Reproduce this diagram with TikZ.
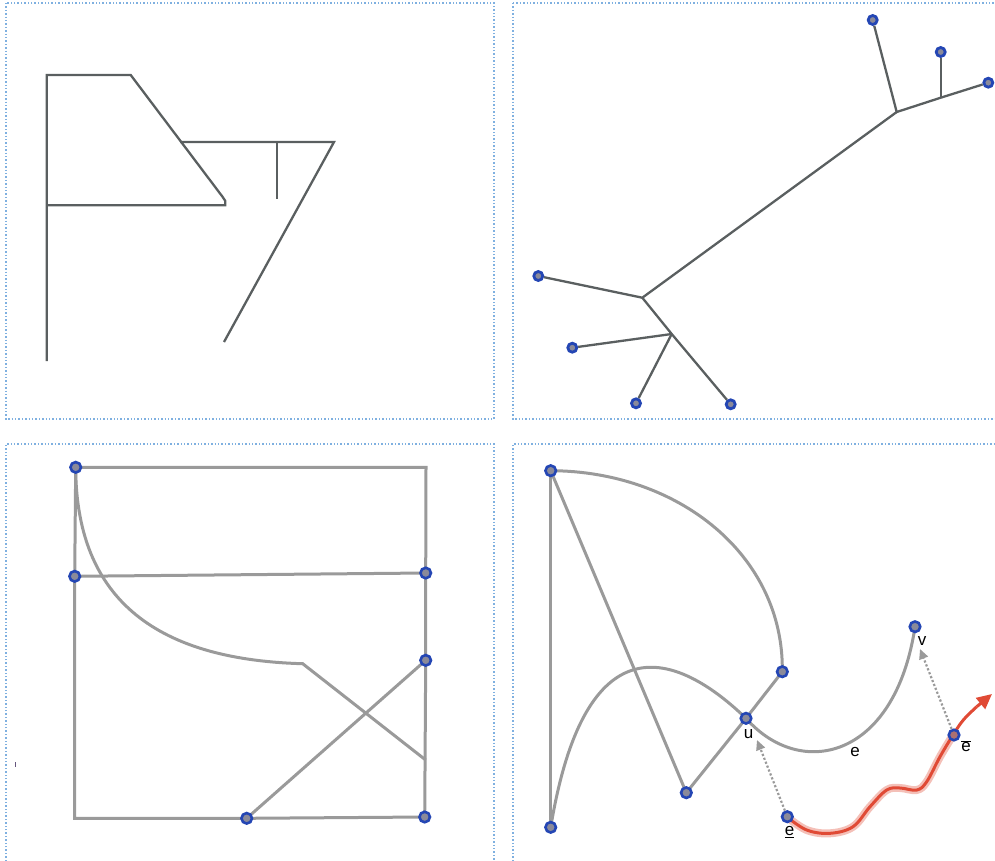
\documentclass[tikz,border=0pt]{standalone}
\usepackage{fontspec}
\setmainfont{Liberation Sans}
\usetikzlibrary{arrows.meta}
\definecolor{panelblue}{HTML}{7FB0E0}
\definecolor{darkline}{HTML}{5A5F60}
\definecolor{lgray}{HTML}{9A9A9A}
\definecolor{nodeblue}{HTML}{2446B4}
\definecolor{nodefill}{HTML}{8A8A9A}
\definecolor{redpath}{HTML}{E04A35}
\tikzset{
  panel/.style={draw=panelblue, dotted, line width=1.4pt},
  treeline/.style={draw=darkline, line width=2.3pt},
  edge/.style={draw=lgray, line width=3pt},
  dot/.style={circle, draw=nodeblue, fill=nodefill, line width=2.6pt, minimum size=10.5pt, inner sep=0pt},
  sdot/.style={circle, draw=nodeblue, fill=nodefill, line width=2.8pt, minimum size=9pt, inner sep=0pt},
  lbl/.style={font=\fontsize{17pt}{19pt}\selectfont, inner sep=1pt},
  hint/.style={draw=lgray, dotted, line width=2.2pt, -{Triangle[length=10pt,width=9pt]}},
}
\begin{document}
\begin{tikzpicture}[x=1pt,y=-1pt]
\useasboundingbox (0,0) rectangle (995,860);
% panels
\draw[panel] (6,3) rectangle (494,419);
\draw[panel] (513,3) -- (996,3) (513,3) -- (513,419) -- (996,419);
\draw[panel] (6,861) -- (6,444) -- (494,444) -- (494,861);
\draw[panel] (513,861) -- (513,444) -- (996,444);
% small mark
\draw[draw=nodeblue!70!orange, line width=1.5pt] (15.5,762) -- (15.5,767);

% ---------- top-left ----------
\coordinate (a1) at (46.7,361);
\coordinate (a2) at (46.7,75);
\coordinate (a3) at (130.7,75);
\coordinate (a4) at (222.7,197);
\coordinate (a5) at (225.3,201);
\coordinate (a6) at (225.3,205.3);
\coordinate (a7) at (46.7,205.3);
\coordinate (b1) at (180,142);
\coordinate (b2) at (334,142);
\coordinate (b3) at (224,342);
\coordinate (c1) at (276.7,142);
\coordinate (c2) at (276.7,198.7);
\draw[treeline] (a1) -- (a2) -- (a3) -- (a4) -- (a5) -- (a6) -- (a7);
\draw[treeline] (b1) -- (b2) -- (b3);
\draw[treeline] (c1) -- (c2);

% ---------- top-right ----------
\coordinate (j1) at (896.7,112);
\coordinate (j2) at (940.7,97.7);
\coordinate (j3) at (642.3,297.7);
\coordinate (j4) at (671.7,334);
\node[sdot] (tA) at (872.7,20) {};
\node[sdot] (tB) at (940.7,52) {};
\node[sdot] (tC) at (988.3,82.7) {};
\node[sdot] (tD) at (538.3,276) {};
\node[sdot] (tE) at (572.3,347.7) {};
\node[sdot] (tF) at (636,403.3) {};
\node[sdot] (tG) at (730.7,404.3) {};
\draw[treeline] (tA) -- (j1) -- (j2) -- (tC);
\draw[treeline] (j2) -- (tB);
\draw[treeline] (j1) -- (j3) -- (tD);
\draw[treeline] (j3) -- (j4) -- (tG);
\draw[treeline] (j4) -- (tE);
\draw[treeline] (j4) -- (tF);

% ---------- bottom-left ----------
\coordinate (k1) at (426,467.3);
\coordinate (k2) at (74.7,818.3);
\coordinate (k3) at (302.7,663.7);
\coordinate (k4) at (425.7,760);
\draw[edge] (75.7,467.3) -- (k1) -- (425.7,573);
\draw[edge] (75.7,467.3) -- (74.7,576.3) -- (k2) -- (246.7,818.3) -- (424.7,817);
\draw[edge] (74.7,576.3) -- (425.7,573);
\draw[edge] (425.7,573) -- (425.7,660.3) -- (424.7,817);
\draw[edge] (75.7,467.3) .. controls (76,610) and (170,660) .. (k3) -- (k4);
\draw[edge] (246.7,818.3) -- (425.7,660.3);
\node[dot] (m1) at (75.7,467.3) {};
\node[dot] (m2) at (74.7,576.3) {};
\node[dot] (m3) at (425.7,573) {};
\node[dot] (m4) at (425.7,660.3) {};
\node[dot] (m5) at (246.7,818.3) {};
\node[dot] (m6) at (424.7,817) {};

% ---------- bottom-right ----------
\coordinate (p1) at (550.7,470.7);
\coordinate (p2) at (550.7,827.3);
\coordinate (p3) at (686.3,792.7);
\coordinate (u) at (746,718.3);
\coordinate (p4) at (782.3,671.7);
\coordinate (v) at (915,626.7);
\draw[edge] (p1) -- (p2);
\draw[edge] (p1) -- (p3);
\draw[edge] (p3) -- (u) -- (p4);
\draw[edge] (p1) .. controls (678,471) and (784,555) .. (p4);
\draw[edge] (p2) .. controls (585,620) and (675,650) .. (u);
\draw[edge] (u) .. controls (800,780) and (895,760) .. (v);
\node[dot] (np1) at (p1) {};
\node[dot] (np2) at (p2) {};
\node[dot] (np3) at (p3) {};
\node[dot] (nu) at (u) {};
\node[dot] (np4) at (p4) {};
\node[dot] (nv) at (v) {};

% red wavy path
\coordinate (rt) at (992,694);
\draw[redpath, opacity=0.35, line width=8pt, line cap=round] plot[smooth, tension=0.6] coordinates {(786.7,816.7) (806.7,830) (830,833.3) (853,826.7) (870,806.7) (886.7,790) (900,788) (916.7,790) (926.7,781.7) (940,756.7) (953,735)};
\draw[redpath, line width=3pt] plot[smooth, tension=0.6] coordinates {(786.7,816.7) (806.7,830) (830,833.3) (853,826.7) (870,806.7) (886.7,790) (900,788) (916.7,790) (926.7,781.7) (940,756.7) (953,735) (963.3,720) (976.7,706.7)};
\draw[redpath, line width=3pt, -{Triangle[length=15pt,width=14pt]}] (976.7,706.7) -- (rt);

\node[dot] (e1) at (787.3,816.7) {};
\node[dot, fill=nodefill!60!redpath] (e2) at (954,735) {};

% dotted hint arrows
\coordinate (h1) at (757,740);
\coordinate (h2) at (920,649);
\draw[hint] (e1) -- (h1);
\draw[hint] (e2) -- (h2);

% labels
\node[lbl] (lu) at (748.5,734.5) {u};
\node[lbl] (le) at (855,752) {e};
\node[lbl] (lv) at (922,641) {v};
\node[lbl] (le1) at (789.5,832) {\underline{e}};
\node[lbl] (le2) at (966,746) {$\overline{\mbox{e}}$};
\end{tikzpicture}
\end{document}
